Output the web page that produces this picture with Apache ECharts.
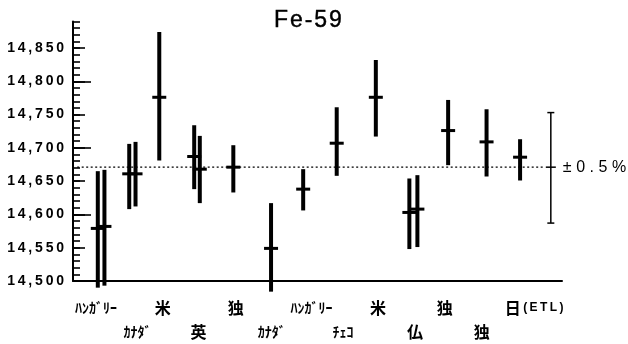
<!DOCTYPE html>
<html><head><meta charset="utf-8">
<script src="https://cdn.jsdelivr.net/npm/echarts@6/dist/echarts.min.js"></script>
<style>html,body{margin:0;padding:0;background:#fff}#c{width:628px;height:344px}</style>
</head><body><div id="c"></div><script>
// ---- data ----
const chartTitle = 'Fe-59';
const labs = ['ﾊﾝｶﾞﾘｰ','ｶﾅﾀﾞ','米','英','独','ｶﾅﾀﾞ','ﾊﾝｶﾞﾘｰ','ﾁｪｺ','米','仏','独','独','日(ETL)'];
const labelX = [0.66, 1.85, 2.57, 3.59, 4.66, 5.69, 6.83, 7.73, 8.73, 9.79, 10.64, 11.70, 13.2];
const measX    = [0.71, 0.90, 1.61, 1.79, 2.47, 3.47, 3.63, 4.59, 5.67, 6.59, 7.55, 8.67, 9.63, 9.86, 10.74, 11.84, 12.80];
const measVal  = [14579, 14582, 14661, 14661, 14776, 14687, 14668, 14671, 14549, 14638, 14707, 14776, 14603, 14608, 14726, 14709, 14686];
const measLow  = [14490, 14493, 14608, 14612, 14681, 14638, 14617, 14633, 14484, 14606, 14658, 14717, 14548, 14551, 14674, 14657, 14651];
const measHigh = [14665, 14667, 14706, 14709, 14874, 14734, 14718, 14704, 14617, 14668, 14761, 14832, 14654, 14659, 14772, 14758, 14713];
const refMean = 14671;
const bandLow = 14587;
const bandHigh = 14753;
const bandLabel = '±0.5%';
const bandX = 13.68;
const refLineEnd = 13.51;
const yMin = 14500, yMax = 14890;
const yLabelTicks = [14500, 14550, 14600, 14650, 14700, 14750, 14800, 14850];
const yMajorTicks = [14500, 14600, 14700, 14800];
const yMinorTicks = [];
for (let v = yMin; v <= yMax; v += 10) yMinorTicks.push(v);
const xMin = 0, xMax = 14;

// ---- helpers ----
const spaced = (s, sp) => s.split('').join(sp || '\u2009');
const fmtNum = v => { const s = String(v); return spaced(s.slice(0, 2) + ',' + s.slice(2)); };

const chart = echarts.init(document.getElementById('c'), null, {renderer: 'canvas'});

function yAx(ticks, len, extra) {
  return Object.assign({
    type: 'value', min: yMin, max: yMax, position: 'left', offset: 0,
    splitLine: {show: false},
    axisLine: {show: false},
    axisLabel: {show: false},
    axisTick: {show: true, inside: true, length: len, customValues: ticks, lineStyle: {color: '#000', width: 1.6}}
  }, extra || {});
}

const rich = {
  k: {fontFamily: '"Noto Sans CJK JP"', fontWeight: 'bold', fontSize: 16, color: '#000'},
  h: {fontFamily: '"Noto Sans CJK JP"', fontWeight: 'bold', fontSize: 14, color: '#000'},
  e: {fontFamily: '"Liberation Sans", Arial', fontWeight: 'bold', fontSize: 12, color: '#000'}
};
function richText(s) {
  return s.match(/[\x20-\x7e]+|[\uff61-\uff9f]+|[^\x20-\x7e\uff61-\uff9f]+/g).map(seg => {
    const cls = /[\x20-\x7e]/.test(seg) ? 'e' : (/[\uff61-\uff9f]/.test(seg) ? 'h' : 'k');
    const txt = cls === 'e' ? '\u2009' + spaced(seg) : seg;
    return '{' + cls + '|' + txt + '}';
  }).join('');
}

const option = {
  animation: false,
  backgroundColor: '#fff',
  title: {
    text: spaced(chartTitle, '\u200a'), left: 269, top: 4,
    textStyle: {fontFamily: '"Liberation Sans", Arial', fontSize: 23, fontWeight: 'normal', color: '#000',
      textBorderColor: '#000', textBorderWidth: 0.4}
  },
  grid: {left: 73, right: 66, top: 21.4, bottom: 63},
  xAxis: {
    type: 'value', min: xMin, max: xMax,
    axisLine: {show: true, onZero: false, lineStyle: {color: '#000', width: 2}},
    axisTick: {show: false}, axisLabel: {show: false}, splitLine: {show: false}
  },
  yAxis: [
    yAx(yMinorTicks, 7, {axisLine: {show: true, lineStyle: {color: '#000', width: 2}}}),
    yAx(yLabelTicks, 12, {axisLabel: {show: true, customValues: yLabelTicks, margin: 9, formatter: fmtNum,
      fontFamily: '"Liberation Sans", Arial', fontWeight: 'bold', fontSize: 14, color: '#000'}}),
    yAx(yMajorTicks, 18)
  ],
  series: [
    {
      type: 'line', silent: true, symbol: 'none', z: 1,
      data: [[xMin + 0.12, refMean], [refLineEnd, refMean]],
      lineStyle: {color: '#000', width: 1.3, type: [2, 2.5]}
    },
    {
      type: 'custom', silent: true, z: 3, clip: false,
      data: measX.map((x, i) => [x, measVal[i], measLow[i], measHigh[i]]),
      renderItem: function (params, api) {
        const x = api.value(0);
        const c = api.coord([x, api.value(1)]);
        const lo = api.coord([x, api.value(2)]);
        const hi = api.coord([x, api.value(3)]);
        return {type: 'group', children: [
          {type: 'line', shape: {x1: hi[0], y1: hi[1], x2: lo[0], y2: lo[1]}, style: {stroke: '#000', lineWidth: 4}},
          {type: 'line', shape: {x1: c[0] - 7, y1: c[1], x2: c[0] + 7, y2: c[1]}, style: {stroke: '#000', lineWidth: 3}}
        ]};
      }
    },
    {
      type: 'custom', silent: true, z: 3, clip: false,
      data: [[bandX, bandLow, refMean, bandHigh]],
      renderItem: function (params, api) {
        const x = api.value(0);
        const lo = api.coord([x, api.value(1)]);
        const m = api.coord([x, api.value(2)]);
        const hi = api.coord([x, api.value(3)]);
        const st = {stroke: '#000', lineWidth: 1.5};
        return {type: 'group', children: [
          {type: 'line', shape: {x1: hi[0], y1: hi[1], x2: lo[0], y2: lo[1]}, style: st},
          {type: 'line', shape: {x1: hi[0] - 3.5, y1: hi[1], x2: hi[0] + 3.5, y2: hi[1]}, style: st},
          {type: 'line', shape: {x1: lo[0] - 3.5, y1: lo[1], x2: lo[0] + 3.5, y2: lo[1]}, style: st},
          {type: 'line', shape: {x1: m[0] - 5, y1: m[1], x2: m[0] + 5, y2: m[1]}, style: st},
          {type: 'text', style: {text: spaced(bandLabel, '\u2009\u200a'), x: m[0] + 12, y: m[1], align: 'left', verticalAlign: 'middle',
            font: '16px "Liberation Sans", Arial', fill: '#000'}}
        ]};
      }
    },
    {
      type: 'custom', silent: true, z: 3, clip: false,
      data: labelX.map((x, i) => [x, yMin, i]),
      renderItem: function (params, api) {
        const i = api.value(2);
        const p = api.coord([api.value(0), api.value(1)]);
        return {type: 'text', style: {text: richText(labs[i]), rich: rich, x: p[0], y: p[1] + (i % 2 ? 51 : 27),
          align: 'center', verticalAlign: 'middle', fill: '#000'}};
      }
    }
  ]
};
chart.setOption(option);
</script></body></html>
